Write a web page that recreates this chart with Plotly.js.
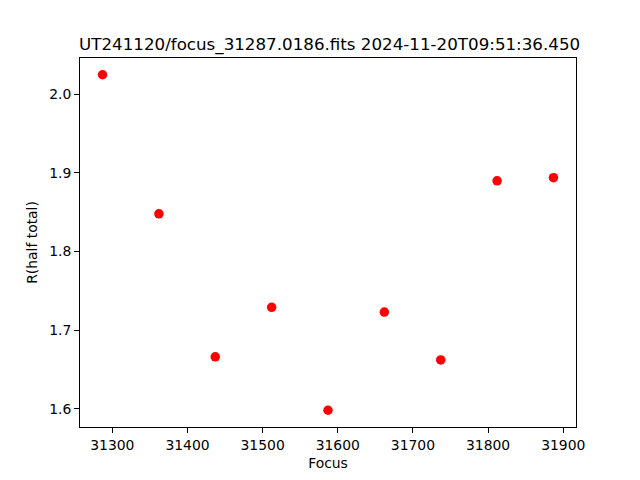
<!DOCTYPE html>
<html>
<head>
<meta charset="utf-8">
<script src="https://cdn.plot.ly/plotly-3.0.1.min.js"></script>
<style>html,body{margin:0;padding:0;background:#fff;}#chart{width:640px;height:480px;}</style>
</head>
<body>
<div id="chart"></div>
<script>
const focus = [31287, 31362, 31437, 31512, 31587, 31662, 31737, 31812, 31887];
const rHalf = [2.025, 1.848, 1.666, 1.729, 1.598, 1.723, 1.662, 1.890, 1.894];
const xTicks = [31300, 31400, 31500, 31600, 31700, 31800, 31900];
const xTickText = ["31300", "31400", "31500", "31600", "31700", "31800", "31900"];
const yTicks = [1.6, 1.7, 1.8, 1.9, 2.0];
const yTickText = ["1.6", "1.7", "1.8", "1.9", "2.0"];
const titleText = "UT241120/focus_31287.0186.fits 2024-11-20T09:51:36.450";

const axisCommon = {
  showgrid: false, zeroline: false, showline: true, linecolor: "#000", linewidth: 1,
  mirror: true, ticks: "outside", ticklen: 5, tickwidth: 1, tickcolor: "#000",
  tickfont: {family: "DejaVu Sans", size: 13.9, color: "#000"}
};

Plotly.newPlot("chart", [{
  x: focus, y: rHalf, type: "scatter", mode: "markers",
  marker: {color: "#ff0000", size: 9.5}
}], {
  width: 640, height: 480,
  margin: {l: 80, r: 64, t: 58, b: 53, pad: 0},
  paper_bgcolor: "#fff", plot_bgcolor: "#fff",
  font: {family: "DejaVu Sans", color: "#000"},
  title: {text: titleText, font: {family: "DejaVu Sans", size: 16.7, color: "#000"},
          x: 0.515, xanchor: "center", y: 0.908, yanchor: "middle"},
  xaxis: Object.assign({}, axisCommon, {
    range: [31257, 31917], tickvals: xTicks, ticktext: xTickText,
    title: {text: "Focus", font: {family: "DejaVu Sans", size: 13.9, color: "#000"}, standoff: 6}
  }),
  yaxis: Object.assign({}, axisCommon, {
    range: [1.5767, 2.0463], tickvals: yTicks, ticktext: yTickText,
    title: {text: "R(half total)", font: {family: "DejaVu Sans", size: 13.9, color: "#000"}, standoff: 8}
  }),
  showlegend: false
}, {staticPlot: true});
</script>
</body>
</html>
